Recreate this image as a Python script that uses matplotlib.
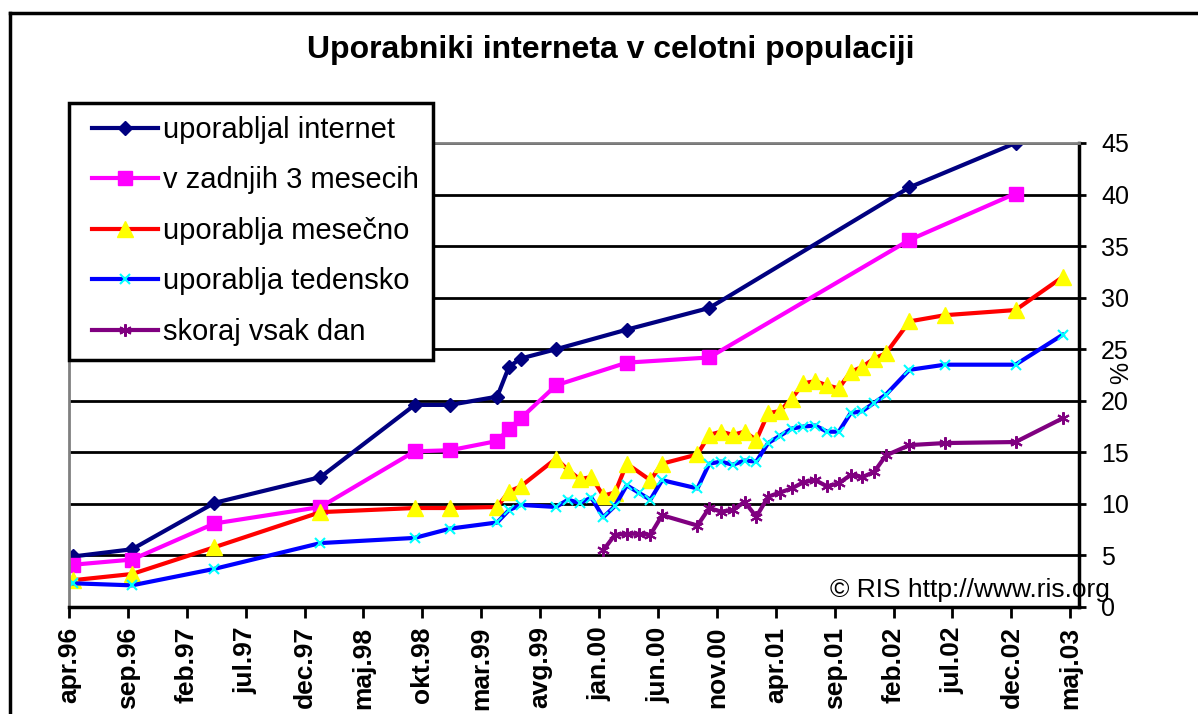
import matplotlib
matplotlib.use("Agg")
import matplotlib.pyplot as plt
from matplotlib.lines import Line2D
from matplotlib.patches import Rectangle

plt.rcParams['font.family'] = ['Liberation Sans', 'DejaVu Sans']

# month index counted from apr.96
months_a = [0, 5, 12, 21, 29, 32, 36, 37, 38, 41, 47, 54, 71, 80]
uporabljal = [4.9, 5.6, 10.1, 12.6, 19.6, 19.6, 20.4, 23.3, 24.1, 25.0, 26.9, 29.0, 40.7, 45.0]
zadnjih3 = [4.1, 4.6, 8.1, 9.7, 15.1, 15.2, 16.1, 17.3, 18.3, 21.5, 23.7, 24.2, 35.6, 40.1]

months_m = [0, 5, 12, 21, 29, 32, 36, 37, 38, 41, 42, 43, 44, 45, 46, 47, 49, 50, 53, 54,
            55, 56, 57, 58, 59, 60, 61, 62, 63, 64, 65, 66, 67, 68, 69, 71, 74, 80, 84]
mesecno = [2.6, 3.2, 5.8, 9.2, 9.6, 9.6, 9.7, 11.2, 11.7, 14.4, 13.3, 12.4, 12.6, 10.8, 11.1,
           13.9, 12.3, 13.9, 14.8, 16.7, 17.0, 16.7, 17.0, 16.2, 18.8, 19.0, 20.2, 21.7, 21.9,
           21.5, 21.2, 22.8, 23.3, 24.1, 24.6, 27.7, 28.3, 28.8, 32.0]

months_t = [0, 5, 12, 21, 29, 32, 36, 37, 38, 41, 42, 43, 44, 45, 46, 47, 48, 49, 50, 53,
            54, 55, 56, 57, 58, 59, 60, 61, 62, 63, 64, 65, 66, 67, 68, 69, 71, 74, 80, 84]
tedensko = [2.3, 2.1, 3.7, 6.2, 6.7, 7.6, 8.2, 9.4, 9.9, 9.7, 10.4, 10.1, 10.6, 8.7, 9.8,
            11.8, 11.1, 10.4, 12.3, 11.5, 13.9, 14.1, 13.8, 14.2, 14.1, 15.9, 16.6, 17.3,
            17.5, 17.6, 17.0, 17.0, 18.8, 19.0, 19.8, 20.6, 23.0, 23.5, 23.5, 26.4]

months_d = [45, 46, 47, 48, 49, 50, 53, 54, 55, 56, 57, 58, 59, 60, 61, 62, 63, 64, 65,
            66, 67, 68, 69, 71, 74, 80, 84]
vsak_dan = [5.5, 7.0, 7.1, 7.1, 7.0, 8.9, 7.9, 9.6, 9.25, 9.4, 10.2, 8.75, 10.7, 11.1, 11.5,
            12.1, 12.3, 11.7, 12.0, 12.8, 12.6, 13.1, 14.7, 15.7, 15.9, 16.0, 18.3]

tick_labels = ['apr.96', 'sep.96', 'feb.97', 'jul.97', 'dec.97', 'maj.98', 'okt.98',
               'mar.99', 'avg.99', 'jan.00', 'jun.00', 'nov.00', 'apr.01', 'sep.01',
               'feb.02', 'jul.02', 'dec.02', 'maj.03']

day = 0.35  # survey points sit about a third into the month


def pos(ms):
    return [m + day for m in ms]


fig = plt.figure(figsize=(11.98, 7.14), dpi=100)
W, H = 1198, 714
ax = fig.add_axes([69 / W, 1 - 607 / H, (1079 - 69) / W, (607 - 143) / H])

ax.plot(pos(months_a), uporabljal, color='#000080', lw=3, marker='D', ms=7.5,
        label='uporabljal internet')
ax.plot(pos(months_a), zadnjih3, color='#FF00FF', lw=3, marker='s', ms=10,
        label='v zadnjih 3 mesecih')
ax.plot(pos(months_m), mesecno, color='#FF0000', lw=3, marker='^', ms=11,
        mfc='#FFFF00', mec='#FFFF00', label='uporablja mesečno')
ax.plot(pos(months_t), tedensko, color='#0000FF', lw=3, marker='x', ms=7, mew=1.5,
        mec='#00FFFF', label='uporablja tedensko')
ax.plot(pos(months_d), vsak_dan, color='#800080', lw=3, marker=(6, 2, 0), ms=9, mew=1.5,
        label='skoraj vsak dan')

ax.set_xlim(0, 85.74)
ax.set_ylim(0, 45)
ax.set_xticks(range(0, 86, 5))
ax.set_xticklabels(tick_labels, rotation=90, fontsize=19, fontweight='bold')
ax.set_yticks(range(0, 46, 5))
ax.yaxis.tick_right()
ax.tick_params(axis='y', direction='out', length=5, width=2, labelsize=18, pad=11, colors='black')
ax.tick_params(axis='x', direction='out', length=8, width=2, pad=6)
ax.set_ylabel('%', fontsize=18, rotation=90)
ax.yaxis.set_label_position('right')
ax.yaxis.set_label_coords(1.03, 0.505)

ax.grid(axis='y', color='black', lw=2)
ax.set_axisbelow(True)
for s in ['left', 'top']:
    ax.spines[s].set_color('#808080')
    ax.spines[s].set_linewidth(2)
for s in ['right', 'bottom']:
    ax.spines[s].set_color('black')
    ax.spines[s].set_linewidth(2.5)

# legend box drawn separately so the padding can match the original
fig.add_artist(Rectangle((69 / W, 1 - 360 / H), (433 - 69) / W, (360 - 103) / H,
                         transform=fig.transFigure, facecolor='white',
                         edgecolor='black', lw=2.5, zorder=1))
handles, labels = ax.get_legend_handles_labels()
leg = fig.legend(handles, labels, loc='upper left', bbox_to_anchor=(92 / W, 1 - 116 / H),
                 borderaxespad=0, borderpad=0, fontsize=21, frameon=False,
                 numpoints=1, handlelength=2.25, handletextpad=0.2, labelspacing=0.77)
leg.set_zorder(2)

fig.text(611 / W, 1 - 50 / H, 'Uporabniki interneta v celotni populaciji',
         ha='center', va='center', fontsize=23, fontweight='bold')
fig.text(830 / W, 1 - 590 / H, '© RIS http://www.ris.org', ha='left', va='center',
         fontsize=19)

# outer chart frame
fig.add_artist(Line2D([10 / W, 1], [1 - 13 / H, 1 - 13 / H], color='black', lw=2.5))
fig.add_artist(Line2D([10 / W, 10 / W], [0, 1 - 13 / H], color='black', lw=2.5))

fig.savefig('out.png', dpi=100)
